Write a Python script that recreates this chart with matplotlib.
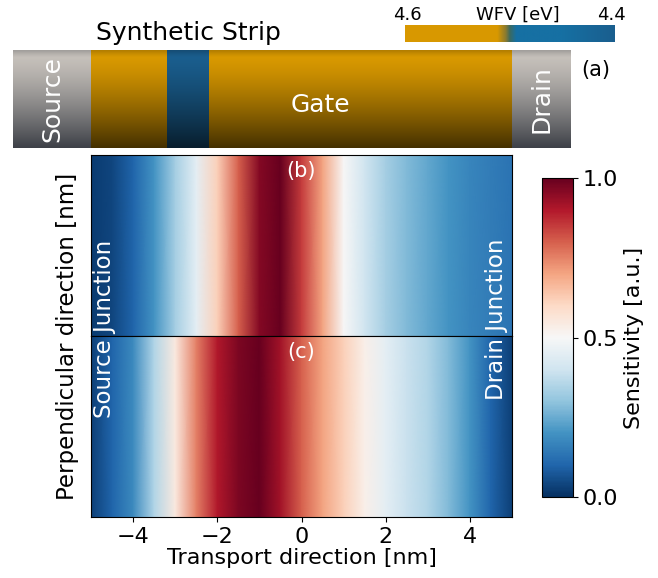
import numpy as np
import matplotlib
matplotlib.use('Agg')
import matplotlib.pyplot as plt
from matplotlib.colors import LinearSegmentedColormap, to_rgb

# transport positions [nm] and sensitivity profiles
x_nm = np.arange(-5, 5.01, 0.5)
sens_b = [0.02, 0.04, 0.10, 0.20, 0.33, 0.45, 0.62, 0.80, 0.96, 1.0, 0.85,
          0.70, 0.50, 0.40, 0.33, 0.28, 0.24, 0.20, 0.17, 0.15, 0.13]
sens_c = [0.03, 0.10, 0.18, 0.35, 0.55, 0.75, 0.90, 0.97, 1.0, 0.92, 0.80,
          0.70, 0.62, 0.53, 0.45, 0.39, 0.35, 0.28, 0.20, 0.10, 0.03]

# synthetic strip: regions along transport direction [nm]
region_names = ['Source', 'Gate', 'Stripe', 'Gate', 'Drain']
region_edges = [(-6.85, -5.0), (-5.0, -3.2), (-3.2, -2.2), (-2.2, 5.0), (5.0, 6.4)]
region_wfv = [None, 4.6, 4.4, 4.6, None]

# work function colormap (4.6 -> orange, 4.4 -> blue)
wfv_cmap = LinearSegmentedColormap.from_list(
    'wfv', [(0.0, '#d99900'), (0.44, '#d89800'), (0.48, '#8a7a30'),
            (0.50, '#3b6a60'), (0.53, '#1670a3'), (0.75, '#1670a3'),
            (1.0, '#1a5e8e')])

W, H = 658, 578
fig = plt.figure(figsize=(W / 100, H / 100), dpi=100)


def fr(x0, y0, x1, y1):
    return [x0 / W, 1 - y1 / H, (x1 - x0) / W, (y1 - y0) / H]


# ---- top strip (a)
ax_s = fig.add_axes(fr(13, 50, 571, 148))
ax_s.set_xlim(-6.85, 6.4)
ax_s.set_ylim(0, 1)
ax_s.axis('off')
t = np.linspace(0, 1, 60)
shade = np.clip(np.where(t < 0.06, 0.35 - t * 5, (t - 0.06) / 0.94) ** 1.3, 0, 1)
for name, (a, b), w in zip(region_names, region_edges, region_wfv):
    if w is None:
        top, bot = np.array(to_rgb('#c5c0ba')), np.array(to_rgb('#3e4148'))
    else:
        top = np.array(wfv_cmap((4.6 - w) / 0.2)[:3])
        bot = top * 0.32
    img = top[None, :] * (1 - shade[:, None]) + bot[None, :] * shade[:, None]
    ax_s.imshow(img[:, None, :], extent=[a, b, 0, 1], aspect='auto',
                interpolation='bilinear', origin='upper')
ax_s.text(-5.92, 0.5, 'Source', color='white', fontsize=18, rotation=90,
          ha='center', va='center')
ax_s.text(5.7, 0.5, 'Drain', color='white', fontsize=18, rotation=90,
          ha='center', va='center')
ax_s.text(0.46, 0.44, 'Gate', color='white', fontsize=18, ha='center', va='center')
fig.text(188 / W, 1 - 33 / H, 'Synthetic Strip', fontsize=18, ha='center', va='center')
fig.text(596 / W, 1 - 70 / H, '(a)', fontsize=15, ha='center', va='center')

# ---- WFV colorbar
ax_w = fig.add_axes(fr(405, 25, 615, 42))
ax_w.imshow(np.linspace(0, 1, 256)[None, :], cmap=wfv_cmap, aspect='auto',
            extent=[4.6, 4.4, 0, 1])
ax_w.set_xlim(4.6, 4.4)
ax_w.axis('off')
fig.text(407 / W, 1 - 15 / H, '4.6', fontsize=13, ha='center', va='center')
fig.text(518 / W, 1 - 15 / H, 'WFV [eV]', fontsize=13, ha='center', va='center')
fig.text(611 / W, 1 - 15 / H, '4.4', fontsize=13, ha='center', va='center')

# ---- sensitivity maps (b) and (c)
ax_b = fig.add_axes(fr(91, 155, 512, 336))
ax_c = fig.add_axes(fr(91, 336, 512, 517))
yy = np.array([0, 1])
for ax, s, lab in [(ax_b, sens_b, '(b)'), (ax_c, sens_c, '(c)')]:
    C = np.vstack([s, s])
    m = ax.pcolormesh(x_nm, yy, C, cmap='RdBu_r', vmin=0, vmax=1, shading='gouraud')
    ax.set_xlim(-5, 5)
    ax.set_ylim(0, 1)
    ax.set_yticks([])
    ax.text(0, 0.91, lab, color='white', fontsize=15, ha='center', va='center')
ax_b.set_xticks([])
ax_c.set_xticks([-4, -2, 0, 2, 4])
ax_c.tick_params(axis='x', labelsize=16)
ax_c.set_xlabel('Transport direction [nm]', fontsize=16, labelpad=1)

fig.text(68 / W, 1 - 336 / H, 'Perpendicular direction [nm]', fontsize=16.5,
         rotation=90, ha='center', va='center')
fig.text(105 / W, 1 - 240 / H, 'Source Junction', color='white', fontsize=16.5,
         rotation=90, ha='center', va='top')
fig.text(497 / W, 1 - 238 / H, 'Drain Junction', color='white', fontsize=16.5,
         rotation=90, ha='center', va='top')

# ---- sensitivity colorbar
cax = fig.add_axes(fr(542, 178, 573, 497))
cb = fig.colorbar(m, cax=cax, ticks=[0, 0.5, 1.0])
cb.ax.tick_params(labelsize=16)
cb.set_label('Sensitivity [a.u.]', fontsize=16)

fig.savefig('out.png', dpi=100)
